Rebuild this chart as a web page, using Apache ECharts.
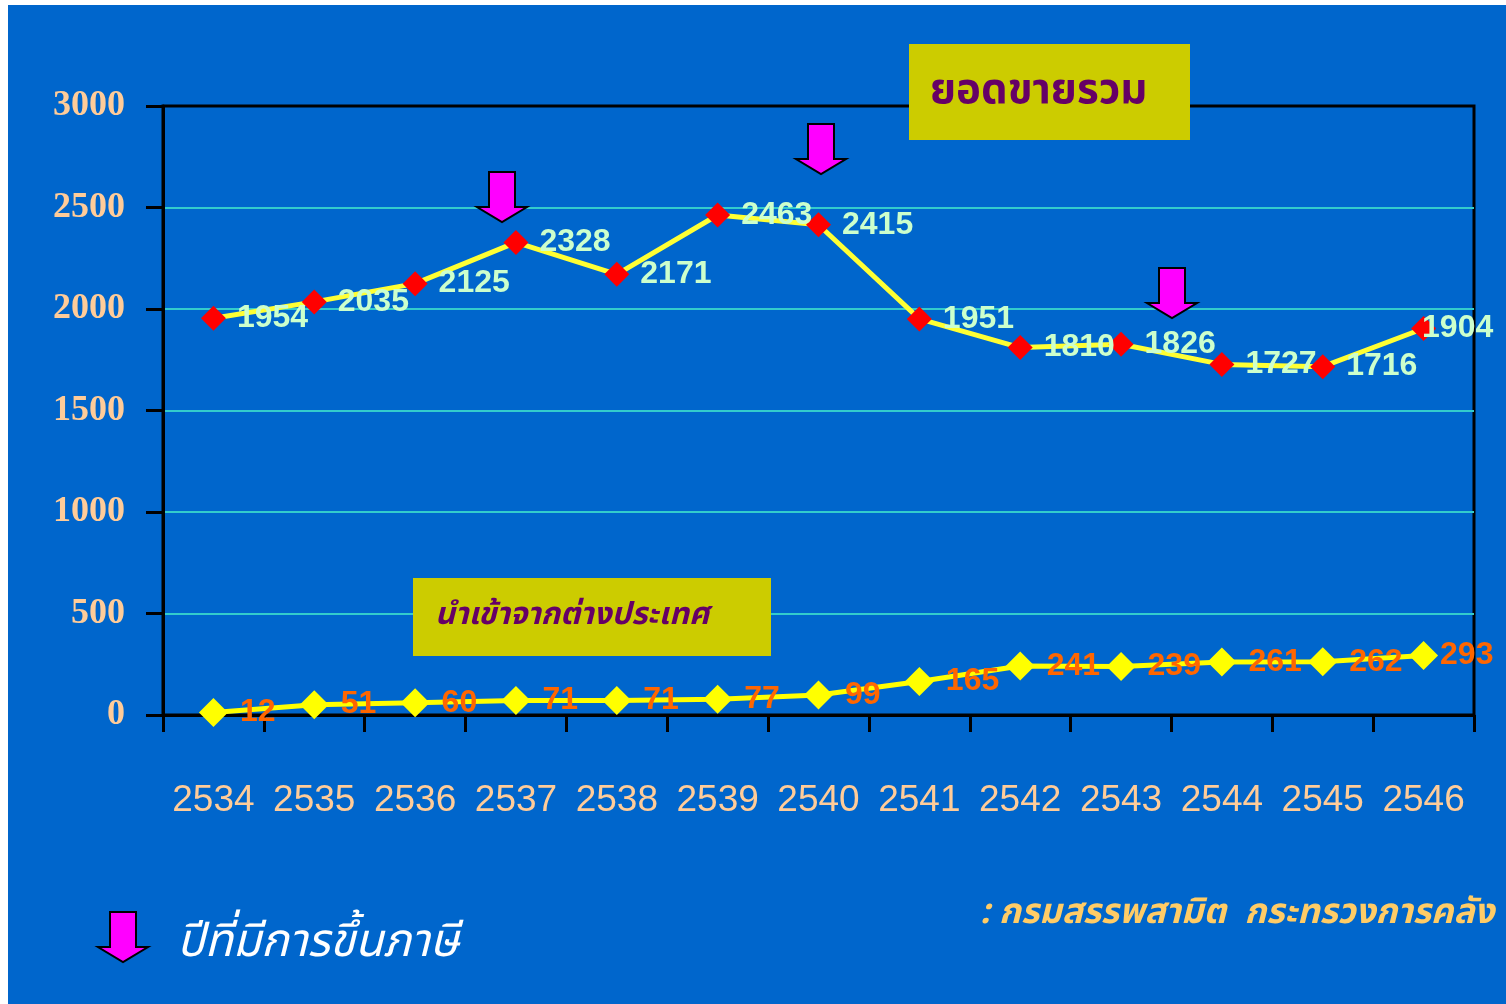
<!DOCTYPE html>
<html>
<head>
<meta charset="utf-8">
<script src="https://cdn.jsdelivr.net/npm/echarts@6/dist/echarts.min.js"></script>
<style>
  html, body { margin: 0; padding: 0; background: #ffffff; }
  #main { position: absolute; left: 8px; top: 5px; width: 1498px; height: 999px; background: #0066CC; }
</style>
</head>
<body>
<div id="main"></div>
<script>
var years = ['2534', '2535', '2536', '2537', '2538', '2539', '2540', '2541', '2542', '2543', '2544', '2545', '2546'];
var totalSales = [1954, 2035, 2125, 2328, 2171, 2463, 2415, 1951, 1810, 1826, 1727, 1716, 1904];
var imported = [12, 51, 60, 71, 71, 77, 99, 165, 241, 239, 261, 262, 293];
var yTicks = [0, 500, 1000, 1500, 2000, 2500, 3000];

var thaiFont = '"Noto Sans Thai", "Noto Serif Thai", "Tahoma", "DejaVu Sans", sans-serif';

// ลูกศรชมพู (ปีที่มีการขึ้นภาษี)
function arrow(cx, top) {
    var w = 50, sw = 26, sh = 35, h = 50;
    return {
        type: 'polygon',
        z: 50,
        shape: {
            points: [
                [cx - sw / 2, top], [cx + sw / 2, top], [cx + sw / 2, top + sh],
                [cx + w / 2, top + sh], [cx, top + h], [cx - w / 2, top + sh],
                [cx - sw / 2, top + sh]
            ]
        },
        style: { fill: '#FF00FF', stroke: '#000', lineWidth: 2 }
    };
}

// the last label sits closer to its point, as in the slide
function withLastLabel(values, dist) {
    return values.map(function(v, i) {
        if (i !== values.length - 1) return v;
        return { value: v, label: { distance: dist } };
    });
}

var chart = echarts.init(document.getElementById('main'));

var option = {
    animation: false,
    grid: {
        left: 155,
        right: 32,
        top: 101,
        bottom: 289,
        show: true,
        borderColor: '#000',
        borderWidth: 3,
        backgroundColor: 'transparent'
    },
    xAxis: {
        type: 'category',
        data: years,
        boundaryGap: true,
        axisLine: { lineStyle: { color: '#000', width: 3 } },
        axisTick: { show: true, interval: 0, length: 17, lineStyle: { color: '#000', width: 3 } },
        axisLabel: {
            interval: 0,
            color: '#FFCC99',
            fontFamily: 'Arial, "Liberation Sans", sans-serif',
            fontSize: 37,
            margin: 67
        },
        splitLine: { show: false }
    },
    yAxis: {
        type: 'value',
        min: yTicks[0],
        max: yTicks[yTicks.length - 1],
        interval: 500,
        axisLine: { show: true, lineStyle: { color: '#000', width: 3 } },
        axisTick: { show: true, length: 17, lineStyle: { color: '#000', width: 3 } },
        axisLabel: {
            color: '#FFCC99',
            fontFamily: '"Times New Roman", "Liberation Serif", serif',
            fontWeight: 'bold',
            fontSize: 36,
            margin: 38,
            padding: [6, 0, 0, 0],
            formatter: function(v) { return String(v); }
        },
        splitLine: {
            show: true,
            lineStyle: {
                color: ['#000', '#33CCCC', '#33CCCC', '#33CCCC', '#33CCCC', '#33CCCC', '#000'],
                width: 2
            }
        }
    },
    series: [{
        name: 'ยอดขายรวม',
        type: 'line',
        data: withLastLabel(totalSales, -14),
        symbol: 'diamond',
        symbolSize: 25,
        itemStyle: { color: '#FF0000' },
        lineStyle: { color: '#FFFF33', width: 5 },
        label: {
            show: true,
            position: 'right',
            distance: 11,
            color: '#CCFFCC',
            fontFamily: 'Arial, "Liberation Sans", sans-serif',
            fontWeight: 'bold',
            fontSize: 32
        }
    }, {
        name: 'นำเข้าจากต่างประเทศ',
        type: 'line',
        data: withLastLabel(imported, 2),
        symbol: 'diamond',
        symbolSize: 29,
        itemStyle: { color: '#FFFF00' },
        lineStyle: { color: '#FFFF00', width: 5 },
        label: {
            show: true,
            position: 'right',
            distance: 12,
            color: '#FF6600',
            fontFamily: 'Arial, "Liberation Sans", sans-serif',
            fontWeight: 'bold',
            fontSize: 32
        }
    }],
    graphic: [
        {
            type: 'rect',
            z: 40,
            shape: { x: 901, y: 39, width: 281, height: 96 },
            style: { fill: '#CCCC00' }
        },
        {
            type: 'text',
            z: 41,
            x: 922, y: 90,
            style: {
                text: 'ยอดขายรวม',
                fill: '#660066',
                font: 'bold 42px ' + thaiFont,
                verticalAlign: 'middle'
            }
        },
        {
            type: 'rect',
            z: 40,
            shape: { x: 405, y: 573, width: 358, height: 78 },
            style: { fill: '#CCCC00' }
        },
        {
            type: 'text',
            z: 41,
            x: 427, y: 613,
            style: {
                text: 'นำเข้าจากต่างประเทศ',
                fill: '#660066',
                font: 'italic bold 31px ' + thaiFont,
                verticalAlign: 'middle'
            }
        },
        arrow(494, 167),
        arrow(813, 119),
        arrow(1164, 263),
        arrow(115, 907),
        {
            type: 'text',
            z: 41,
            x: 169, y: 942,
            style: {
                text: 'ปีที่มีการขึ้นภาษี',
                fill: '#FFFFFF',
                font: 'italic 46px ' + thaiFont,
                verticalAlign: 'middle'
            }
        },
        {
            type: 'text',
            z: 41,
            x: 972, y: 911,
            style: {
                text: ': กรมสรรพสามิต  กระทรวงการคลัง',
                fill: '#FFCC66',
                font: 'italic bold 35px ' + thaiFont,
                verticalAlign: 'middle'
            }
        }
    ]
};

chart.setOption(option);
</script>
</body>
</html>
